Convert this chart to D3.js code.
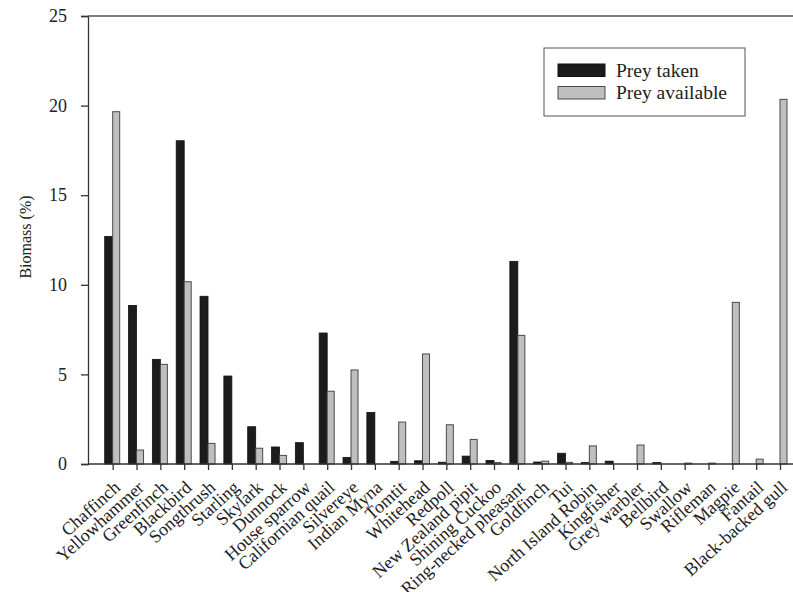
<!DOCTYPE html>
<html>
<head>
<meta charset="utf-8">
<script src="https://cdn.jsdelivr.net/npm/d3@7"></script>
<style>
  html, body { margin: 0; padding: 0; background: #fff; }
  svg { display: block; }
  text { font-family: "Liberation Serif", "Times New Roman", serif; fill: #222; }
</style>
</head>
<body>
<svg id="chart" width="793" height="592"></svg>
<script>
const categories = ["Chaffinch","Yellowhammer","Greenfinch","Blackbird","Songthrush","Starling","Skylark","Dunnock","House sparrow","Californian quail","Silvereye","Indian Myna","Tomtit","Whitehead","Redpoll","New Zealand pipit","Shining Cuckoo","Ring-necked pheasant","Goldfinch","Tui","North Island Robin","Kingfisher","Grey warbler","Bellbird","Swallow","Rifleman","Magpie","Fantail","Black-backed gull"];
const preyTaken = [12.7,8.85,5.84,18.04,9.36,4.91,2.08,0.95,1.19,7.31,0.37,2.88,0.15,0.18,0.1,0.44,0.2,11.31,0.11,0.6,0.08,0.16,0,0.08,0,0,0,0,0];
const preyAvailable = [19.66,0.78,5.56,10.17,1.15,0,0.88,0.48,0,4.06,5.25,0,2.34,6.14,2.19,1.37,0.08,7.18,0.16,0.09,1.01,0,1.06,0,0.05,0.05,9.02,0.27,20.35];
const yTicks = [0,5,10,15,20,25];
const seriesNames = ["Prey taken","Prey available"];

const svg = d3.select("#chart");
const mLeft = 88, mRight = 793, mTop = 16, mBottom = 464;

const x = d3.scalePoint().domain(categories).range([112.7, 780]);
const y = d3.scaleLinear().domain([0, 25]).range([mBottom, mTop]);
const barW = 8;
const axisColor = "#333";

// bars
const g = svg.append("g");
g.selectAll("rect.taken").data(categories).enter().append("rect")
  .attr("class","taken")
  .attr("x", d => x(d) - barW)
  .attr("width", barW)
  .attr("y", (d,i) => y(preyTaken[i]))
  .attr("height", (d,i) => y(0) - y(preyTaken[i]))
  .attr("fill", "#1c1c1c")
  .attr("stroke", "#111").attr("stroke-width", 0.8)
  .style("display", (d,i) => preyTaken[i] > 0 ? null : "none");
g.selectAll("rect.avail").data(categories).enter().append("rect")
  .attr("class","avail")
  .attr("x", d => x(d))
  .attr("width", barW - 1)
  .attr("y", (d,i) => y(preyAvailable[i]))
  .attr("height", (d,i) => y(0) - y(preyAvailable[i]))
  .attr("fill", "#bfbfbf")
  .attr("stroke", "#4a4a4a").attr("stroke-width", 1)
  .style("display", (d,i) => preyAvailable[i] > 0 ? null : "none");

// y axis
const yAxis = svg.append("g").attr("transform", `translate(${mLeft},0)`)
  .call(d3.axisLeft(y).tickValues(yTicks).tickSize(7).tickPadding(14).tickFormat(d3.format("d")));
yAxis.select(".domain").attr("stroke", axisColor).attr("stroke-width", 1.3);
yAxis.selectAll(".tick line").attr("stroke", axisColor).attr("stroke-width", 1.3);
yAxis.selectAll("text").style("font-size", "18px").style("font-family", "Liberation Serif").attr("fill", "#222");

// x axis
const xAxis = svg.append("g").attr("transform", `translate(0,${mBottom})`)
  .call(d3.axisBottom(x).tickSize(6).tickSizeOuter(0));
xAxis.select(".domain").remove();
xAxis.selectAll(".tick line").attr("stroke", axisColor).attr("stroke-width", 1.3);
xAxis.selectAll(".tick text")
  .attr("y", null).attr("dy", null)
  .attr("transform", "translate(8,25) rotate(-42)")
  .attr("text-anchor", "end")
  .style("font-size", "18px").style("font-family", "Liberation Serif").attr("fill", "#222");

svg.append("line").attr("x1", mLeft).attr("x2", mRight).attr("y1", mBottom).attr("y2", mBottom)
  .attr("stroke", axisColor).attr("stroke-width", 1.3);
svg.append("line").attr("x1", mLeft).attr("x2", mRight).attr("y1", mTop).attr("y2", mTop)
  .attr("stroke", "#555").attr("stroke-width", 1.3);

// y title
svg.append("text").attr("transform", "translate(31,237) rotate(-90)")
  .attr("text-anchor", "middle").style("font-size", "16px").text("Biomass (%)");

// legend
const lg = svg.append("g");
lg.append("rect").attr("x", 544).attr("y", 48).attr("width", 201).attr("height", 68)
  .attr("fill", "#fff").attr("stroke", "#555").attr("stroke-width", 1);
const legFill = ["#1c1c1c", "#bfbfbf"];
const legStroke = ["#111", "#4a4a4a"];
seriesNames.forEach((name, i) => {
  lg.append("rect").attr("x", 558).attr("y", 64 + i * 22.5).attr("width", 47).attr("height", 12.5)
    .attr("fill", legFill[i]).attr("stroke", legStroke[i]).attr("stroke-width", 1);
  lg.append("text").attr("x", 616).attr("y", 77 + i * 22.3)
    .style("font-size", "19.5px").text(name);
});
</script>
</body>
</html>
